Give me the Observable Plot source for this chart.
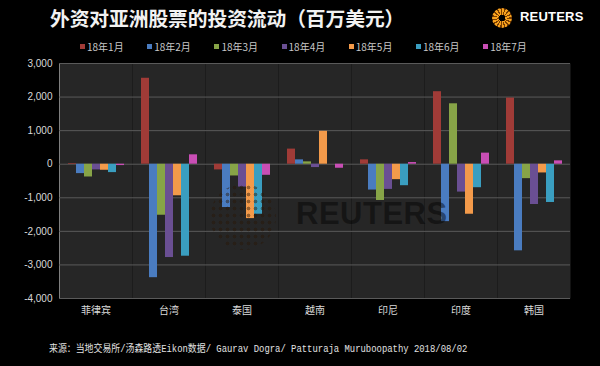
<!DOCTYPE html>
<html>
<head>
<meta charset="utf-8">
<script src="https://cdn.jsdelivr.net/npm/d3@7"></script>
<script src="https://cdn.jsdelivr.net/npm/@observablehq/plot@0.6"></script>
<style>
  html, body { margin: 0; padding: 0; background: #000; }
  #wrap { position: relative; width: 600px; height: 366px; background: #000; overflow: hidden; }
  #chart { position: absolute; left: 0; top: 0; }
  #title { position: absolute; left: 50px; top: 3px; font-family: "Noto Sans CJK SC", sans-serif; font-weight: 700; font-size: 19.8px; color: #f2f2f2; white-space: nowrap; letter-spacing: -0.1px; }
  #logo { position: absolute; left: 492px; top: 8px; width: 20px; height: 20px; border-radius: 50%;
    background: radial-gradient(circle, #000 0 22%, transparent 23%), repeating-conic-gradient(#f7a21e 0deg 14deg, #7a3d00 14deg 24deg); }
  #brand { position: absolute; left: 520px; top: 9px; font-family: "Liberation Sans", Arial, sans-serif; font-weight: 700; font-size: 13px; color: #fff; letter-spacing: 0.2px; }
  #legend { position: absolute; left: 80px; top: 39px; display: flex; font-family: "Noto Sans CJK SC", sans-serif; font-size: 10px; color: #c8c8c8; }
  #legend .item { width: 67.2px; display: flex; align-items: center; white-space: nowrap; }
  #legend .sw { width: 5px; height: 5px; margin-right: 2px; }
  #footer { position: absolute; left: 49px; top: 340px; font-family: "Liberation Mono", "Noto Sans CJK SC", monospace; font-size: 10px; color: #e0e0e0; white-space: nowrap; transform: scaleX(0.89); transform-origin: left center; }
  #wm { position: absolute; left: 296px; top: 196px; font-family: "Liberation Sans", Arial, sans-serif; font-weight: 700; font-size: 31px; color: rgba(0,0,0,0.45); pointer-events: none; letter-spacing: 0.5px; }
  #wmc { position: absolute; left: 210px; top: 184px; width: 66px; height: 66px; border-radius: 50%; pointer-events: none;
    background-image: radial-gradient(circle, rgba(40,22,5,0.45) 1.6px, transparent 2.2px); background-size: 7px 7px; }
</style>
</head>
<body>
<div id="wrap">
  <div id="chart"></div>
  <div id="wmc"></div>
  <div id="wm">REUTERS</div>
  <div id="title">外资对亚洲股票的投资流动（百万美元）</div>
  <div id="logo"></div>
  <div id="brand">REUTERS</div>
  <div id="legend"></div>
  <div id="footer">来源：当地交易所/汤森路透Eikon数据/ Gaurav Dogra/ Patturaja Muruboopathy 2018/08/02</div>
</div>
<script>
const countries = ["菲律宾", "台湾", "泰国", "越南", "印尼", "印度", "韩国"];
const months = ["18年1月", "18年2月", "18年3月", "18年4月", "18年5月", "18年6月", "18年7月"];
const colors = ["#a03b37", "#4a7cc0", "#87a447", "#6a4f93", "#f39a4a", "#3a9ec0", "#c94eb5"];
const yTicks = [3000, 2000, 1000, 0, -1000, -2000, -3000, -4000];

const jan = [20, 2560, -170, 450, 130, 2160, 1970];
const feb = [-280, -3380, -1290, 130, -770, -1710, -2580];
const mar = [-380, -1520, -350, 70, -1080, 1800, -430];
const apr = [-170, -2780, -680, -100, -750, -830, -1200];
const may = [-180, -940, -1620, 980, -460, -1490, -260];
const jun = [-250, -2740, -1490, 0, -640, -700, -1140];
const jul = [-40, 280, -330, -120, 50, 330, 100];
const series = [jan, feb, mar, apr, may, jun, jul];

const data = [];
countries.forEach((c, ci) => {
  months.forEach((m, mi) => {
    data.push({country: c, month: m, value: series[mi][ci]});
  });
});

const fmt = d => (d < 0 ? "-" : "") + d3.format(",")(Math.abs(d));

const chart = Plot.plot({
  width: 600,
  height: 366,
  marginTop: 63,
  marginBottom: 68,
  marginLeft: 57,
  marginRight: 28,
  style: {background: "transparent", color: "#d9d9d9", fontFamily: "'Liberation Sans', 'Noto Sans CJK SC', sans-serif", fontSize: "10px"},
  fx: {domain: countries, padding: 0, label: null, axis: "bottom", tickSize: 0, tickPadding: 8},
  x: {domain: months, axis: null, paddingInner: 0, paddingOuter: 0.8},
  y: {domain: [-4000, 3000], ticks: yTicks, tickFormat: fmt, label: null, tickSize: 0, tickPadding: 7, line: true},
  color: {domain: months, range: colors},
  marks: [
    Plot.frame({fill: "#262626"}),
    Plot.ruleY(yTicks, {stroke: "#5a5a5a", strokeWidth: 1}),
    Plot.barY(data, {fx: "country", x: "month", y: "value", fill: "month"})
  ]
});
document.getElementById("chart").appendChild(chart);

const legend = document.getElementById("legend");
months.forEach((m, i) => {
  const item = document.createElement("div");
  item.className = "item";
  const sw = document.createElement("span");
  sw.className = "sw";
  sw.style.background = colors[i];
  const t = document.createElement("span");
  t.textContent = m;
  item.appendChild(sw);
  item.appendChild(t);
  legend.appendChild(item);
});
</script>
</body>
</html>
